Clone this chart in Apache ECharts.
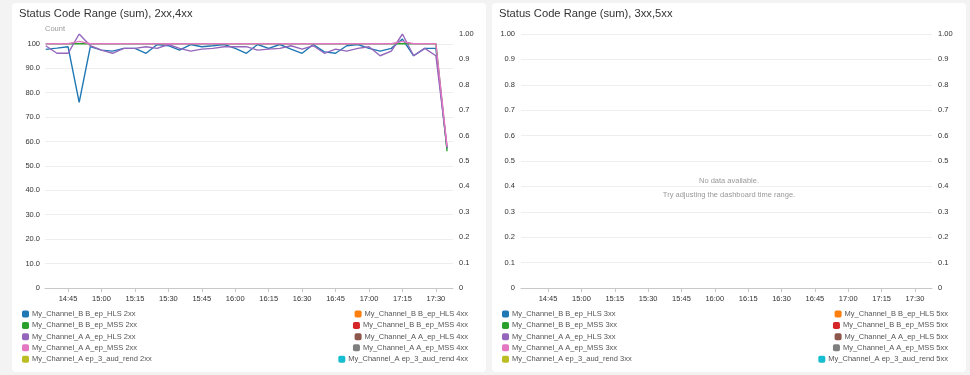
<!DOCTYPE html>
<html>
<head>
<meta charset="utf-8">
<script src="https://cdn.jsdelivr.net/npm/echarts@6/dist/echarts.min.js"></script>
<style>
  html, body { margin: 0; padding: 0; background: #f3f3f3; }
  .card { position: absolute; top: 3px; width: 474px; height: 369px; background: #fff; border-radius: 4px; }
  #left { left: 12px; }
  #right { left: 492px; }
</style>
</head>
<body>
<div class="card" id="left"></div>
<div class="card" id="right"></div>
<script>
// 5-minute buckets
const times = ['14:35', '14:40', '14:45', '14:50', '14:55', '15:00', '15:05', '15:10', '15:15', '15:20',
    '15:25', '15:30', '15:35', '15:40', '15:45', '15:50', '15:55', '16:00', '16:05', '16:10',
    '16:15', '16:20', '16:25', '16:30', '16:35', '16:40', '16:45', '16:50', '16:55', '17:00',
    '17:05', '17:10', '17:15', '17:20', '17:25', '17:30', '17:35'];

const bHls2xx = [97.7, 98.2, 98.8, 76.0, 98.8, 97.4, 97.0, 98.1, 98.1, 96.1, 99.7, 99.2, 97.4, 99.7, 98.8,
    99.2, 99.7, 98.1, 96.1, 99.7, 98.1, 99.7, 97.8, 96.1, 99.7, 96.7, 96.1, 99.2, 99.7, 98.1,
    97.0, 98.1, 101.9, 95.1, 98.1, 98.1, 57.0];
const bMss2xx = [100, 100, 100, 100, 100, 100, 100, 100, 100, 100, 100, 100, 100, 100, 100,
    100, 100, 100, 100, 100, 100, 100, 100, 100, 100, 100, 100, 100, 100, 100,
    100, 100, 100, 100, 100, 100, 56.0];
const aHls2xx = [99.2, 96.1, 96.1, 104.0, 99.2, 97.4, 96.1, 98.1, 98.1, 98.8, 98.1, 99.7, 98.1, 97.0, 97.8,
    98.1, 98.8, 98.8, 98.8, 97.4, 97.8, 98.1, 99.2, 97.8, 99.2, 96.1, 97.8, 97.0, 98.1, 98.8,
    95.1, 97.0, 104.0, 95.1, 98.1, 95.1, 57.5];
const aMss2xx = [100, 100, 100, 101, 100, 100, 100, 100, 100, 100, 100, 100, 100, 100, 100,
    100, 100, 100, 100, 100, 100, 100, 100, 100, 100, 100, 100, 100, 100, 100,
    100, 100, 101, 100, 100, 100, 58.0];
const aAud2xx = [];

const xTicks = ['14:45', '15:00', '15:15', '15:30', '15:45', '16:00', '16:15', '16:30', '16:45', '17:00', '17:15', '17:30'];
const countTicks = ['0', '10.0', '20.0', '30.0', '40.0', '50.0', '60.0', '70.0', '80.0', '90.0', '100'];
const ratioTicks = ['0', '0.1', '0.2', '0.3', '0.4', '0.5', '0.6', '0.7', '0.8', '0.9', '1.00'];

const channels = ['My_Channel_B B_ep_HLS', 'My_Channel_B B_ep_MSS', 'My_Channel_A A_ep_HLS',
    'My_Channel_A A_ep_MSS', 'My_Channel_A ep_3_aud_rend'];
const colorsLeft = ['#1f77b4', '#2ca02c', '#9467bd', '#e377c2', '#bcbd22'];
const colorsRight = ['#ff7f0e', '#d62728', '#8c564b', '#7f7f7f', '#17becf'];

const FONT = '"Liberation Sans", Arial, sans-serif';
const FS = 7.5;

// minutes since midnight
const toMin = hhmm => {
    const [h, m] = hhmm.split(':').map(Number);
    return h * 60 + m;
};
const fmtMin = v => {
    const h = Math.floor(v / 60), m = Math.round(v % 60);
    return h + ':' + String(m).padStart(2, '0');
};

const makeLegends = (suffixA, suffixB) => {
    const rows = [311, 322.4, 333.7, 344.8, 356.3];
    const out = [];
    channels.forEach((ch, i) => {
        const common = {
            top: rows[i] - 4, padding: 0, itemWidth: 7, itemHeight: 7, icon: 'roundRect',
            orient: 'horizontal', align: 'left',
            textStyle: { color: '#555', fontSize: FS, fontFamily: FONT, padding: [0, 0, 0, -2] },
        };
        out.push({ ...common, left: 10, data: [ch + ' ' + suffixA] });
        out.push({ ...common, right: 18, data: [ch + ' ' + suffixB] });
    });
    return out;
};

const xAxisFor = (minV, maxV) => ({
    type: 'value',
    min: minV,
    max: maxV,
    splitLine: { show: false },
    axisLine: { lineStyle: { color: '#c8c8c8' } },
    axisTick: { show: true, length: 4, lineStyle: { color: '#c8c8c8' }, customValues: xTicks.map(toMin) },
    axisLabel: {
        color: '#333', fontSize: FS, fontFamily: FONT, margin: 7,
        customValues: xTicks.map(toMin),
        formatter: fmtMin,
    },
});

const ratioAxis = (pos, withSplit) => ({
    type: 'value',
    position: pos,
    min: 0,
    max: 1,
    interval: 0.1,
    axisLine: { show: false },
    axisTick: { show: false },
    splitLine: { show: withSplit, lineStyle: { color: '#eeeeee' } },
    axisLabel: {
        color: '#333', fontSize: FS, fontFamily: FONT, margin: 6,
        formatter: v => ratioTicks[Math.round(v * 10)],
    },
});

const titleFor = text => ({
    text, left: 7, top: 5, padding: 0,
    textStyle: { color: '#333', fontSize: 11.2, fontWeight: 'normal', fontFamily: FONT },
});

// left panel: 2xx / 4xx
const leftChart = echarts.init(document.getElementById('left'));
const seriesLeft2xx = [bHls2xx, bMss2xx, aHls2xx, aMss2xx, aAud2xx];
leftChart.setOption({
    animation: false,
    title: titleFor('Status Code Range (sum), 2xx,4xx'),
    legend: makeLegends('2xx', '4xx'),
    grid: { left: 33, right: 33, top: 31, bottom: 84 },
    xAxis: xAxisFor(toMin('14:35') - 0.33, toMin('17:37') + 0.67),
    yAxis: [
        {
            type: 'value',
            name: 'Count',
            nameGap: 1,
            nameTextStyle: { color: '#999', fontSize: FS, fontFamily: FONT, align: 'left' },
            min: 0,
            max: 'dataMax',
            interval: 10,
            axisLine: { show: false },
            axisTick: { show: false },
            splitLine: { lineStyle: { color: '#eeeeee' }, showMaxLine: false },
            axisLabel: {
                color: '#333', fontSize: FS, fontFamily: FONT, margin: 5, showMaxLabel: false,
                formatter: v => countTicks[Math.round(v / 10)],
            },
        },
        ratioAxis('right', false),
    ],
    series: [
        ...channels.map((ch, i) => ({
            name: ch + ' 2xx',
            type: 'line',
            yAxisIndex: 0,
            color: colorsLeft[i],
            showSymbol: false,
            lineStyle: { width: 1.4 },
            data: seriesLeft2xx[i].map((v, k) => [toMin(times[k]), v]),
        })),
        ...channels.map((ch, i) => ({
            name: ch + ' 4xx',
            type: 'line',
            yAxisIndex: 1,
            color: colorsRight[i],
            showSymbol: false,
            data: [],
        })),
    ],
});

// right panel: 3xx / 5xx, no data
const rightChart = echarts.init(document.getElementById('right'));
rightChart.setOption({
    animation: false,
    title: titleFor('Status Code Range (sum), 3xx,5xx'),
    legend: makeLegends('3xx', '5xx'),
    grid: { left: 29, right: 34, top: 31, bottom: 84 },
    xAxis: xAxisFor(toMin('14:33') - 0.17, toMin('17:37') + 0.67),
    yAxis: [ratioAxis('left', true), ratioAxis('right', false)],
    graphic: [
        {
            type: 'text', left: 'center', top: 174,
            style: { text: 'No data available.', fill: '#999', fontSize: FS, fontFamily: FONT },
        },
        {
            type: 'text', left: 'center', top: 188,
            style: { text: 'Try adjusting the dashboard time range.', fill: '#999', fontSize: FS, fontFamily: FONT },
        },
    ],
    series: [
        ...channels.map((ch, i) => ({
            name: ch + ' 3xx', type: 'line', color: colorsLeft[i], showSymbol: false, data: [],
        })),
        ...channels.map((ch, i) => ({
            name: ch + ' 5xx', type: 'line', yAxisIndex: 1, color: colorsRight[i], showSymbol: false, data: [],
        })),
    ],
});
</script>
</body>
</html>
